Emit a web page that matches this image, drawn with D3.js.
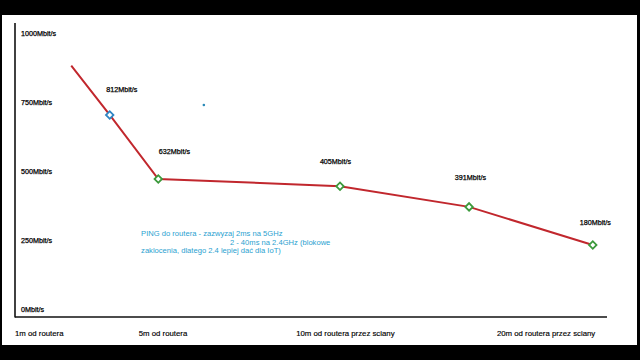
<!DOCTYPE html>
<html><head><meta charset="utf-8">
<script src="https://cdn.jsdelivr.net/npm/d3@7/dist/d3.min.js"></script>
<style>body{margin:0;background:#000;overflow:hidden}svg{display:block}text{font-family:"Liberation Sans",Arial,sans-serif}</style>
</head><body>
<svg id="c" width="640" height="360"></svg>
<script>
// Data
const yTicks = [0, 250, 500, 750, 1000];
const yTickLabels = ["0Mbit/s", "250Mbit/s", "500Mbit/s", "750Mbit/s", "1000Mbit/s"];
const categories = ["1m od routera", "5m od routera", "10m od routera przez sciany", "20m od routera przez sciany"];
const categoryPos = [0, 20.9, 47.5, 81.4];
// line path (first point has no marker)
const lineX = [9.5, 16.0, 24.2, 54.9, 76.7, 97.6];
const lineY = [882, 703, 471, 445, 370, 232];
const markerColors = ["blue", "green", "green", "green", "green"];
const valueLabels = ["812Mbit/s", "632Mbit/s", "405Mbit/s", "391Mbit/s", "180Mbit/s"];
const valueLabelX = [15.4, 24.3, 51.5, 74.3, 95.4];
const valueLabelY = [797, 570, 536, 478, 312];
const noteLines = ["PING do routera - zazwyzaj 2ms na 5GHz", "2 - 40ms na 2.4GHz (blokowe", "zaklocenia, dlatego 2.4 lepiej dać dla IoT)"];
const noteX = [21.3, 36.3, 21.3];
const noteY = [275, 243, 212];
const dotPoint = [31.9, 739];

const svg = d3.select("#c");
svg.append("rect").attr("x", 0).attr("y", 0).attr("width", 640).attr("height", 360).attr("fill", "#000");
svg.append("rect").attr("x", 2).attr("y", 15).attr("width", 635).attr("height", 330).attr("fill", "#fff");

const x = d3.scaleLinear().domain([0, 100]).range([15, 607]);
const y = d3.scaleLinear().domain([0, 1000]).range([309, 33]);

// axes frame
svg.append("line").attr("x1", x(0)).attr("x2", x(0)).attr("y1", 23).attr("y2", 317.5).attr("stroke", "#111").attr("stroke-width", 1.6);
svg.append("line").attr("x1", x(0)).attr("x2", x(100)).attr("y1", 317).attr("y2", 317).attr("stroke", "#111").attr("stroke-width", 1.6);

// y tick labels
svg.selectAll("text.yt").data(yTicks).join("text").attr("class", "yt")
  .attr("x", 21).attr("y", d => y(d)).attr("dy", "0.35em")
  .attr("font-size", 7.2).attr("fill", "#000").attr("stroke", "#000").attr("stroke-width", 0.25)
  .text((d, i) => yTickLabels[i]);

// category labels
svg.selectAll("text.xc").data(categories).join("text").attr("class", "xc")
  .attr("x", (d, i) => x(categoryPos[i])).attr("y", 333).attr("dy", "0.35em")
  .attr("font-size", 7.8).attr("fill", "#000").attr("stroke", "#000").attr("stroke-width", 0.15)
  .text(d => d);

// line
const pts = lineX.map((v, i) => [v, lineY[i]]);
svg.append("path").datum(pts)
  .attr("d", d3.line().x(d => x(d[0])).y(d => y(d[1])))
  .attr("fill", "none").attr("stroke", "#c1272d").attr("stroke-width", 2);

// markers
const colorMap = {blue: "#2f86c4", green: "#3c9a3c"};
const mk = pts.slice(1);
svg.selectAll("path.mk").data(mk).join("path").attr("class", "mk")
  .attr("d", d3.symbol().type(d3.symbolSquare).size(28))
  .attr("transform", d => `translate(${x(d[0])},${y(d[1])}) rotate(45)`)
  .attr("fill", "#fff").attr("stroke", (d, i) => colorMap[markerColors[i]]).attr("stroke-width", 1.8);

// value labels
svg.selectAll("text.vl").data(valueLabels).join("text").attr("class", "vl")
  .attr("x", (d, i) => x(valueLabelX[i])).attr("y", (d, i) => y(valueLabelY[i])).attr("dy", "0.35em")
  .attr("font-size", 7.2).attr("fill", "#000").attr("stroke", "#000").attr("stroke-width", 0.25)
  .text(d => d);

// stray dot
svg.append("circle").attr("cx", x(dotPoint[0])).attr("cy", y(dotPoint[1])).attr("r", 1.3).attr("fill", "#2a8ab8");

// note
svg.selectAll("text.nt").data(noteLines).join("text").attr("class", "nt")
  .attr("x", (d, i) => x(noteX[i])).attr("y", (d, i) => y(noteY[i])).attr("dy", "0.35em")
  .attr("font-size", 7.6).attr("fill", "#2a9fd0").text(d => d);
</script>
</body></html>
